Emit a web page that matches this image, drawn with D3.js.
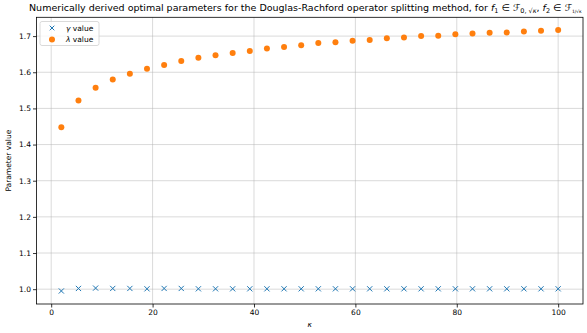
<!DOCTYPE html>
<html><head><meta charset="utf-8">
<script src="https://cdn.jsdelivr.net/npm/d3@7"></script>
<style>body{margin:0;background:#fff}svg{display:block;font-family:"DejaVu Sans",sans-serif}</style>
</head><body><svg id="c" width="587" height="333"></svg>
<script>
const kappa = d3.range(30).map(i => 2 + i * 98 / 29);
const gammaValues = [0.995,1.002,1.003,1.002,1.002,1.001,1.002,1.002,1.001,1.001,1.001,1.001,1.001,1.001,1.001,1.001,1.001,1.001,1.001,1.001,1.001,1.001,1.001,1.001,1.001,1.001,1.001,1.001,1.001,1.001];
const lambdaValues = [1.448,1.522,1.557,1.580,1.596,1.610,1.620,1.631,1.640,1.647,1.653,1.659,1.666,1.670,1.675,1.681,1.683,1.687,1.689,1.694,1.696,1.700,1.701,1.705,1.707,1.709,1.710,1.713,1.715,1.717];
const xTicks = [0,20,40,60,80,100];
const yTicks = [1.0,1.1,1.2,1.3,1.4,1.5,1.6,1.7];

const L=36.5, R=583, T=17.3, B=304;
const svg = d3.select("#c");
const x = d3.scaleLinear().domain([-2.9,104.9]).range([L,R]);
const y = d3.scaleLinear().domain([0.959,1.752]).range([B,T]);

// grid
const g = svg.append("g");
g.selectAll(".gx").data(xTicks).join("line").attr("x1",d=>x(d)).attr("x2",d=>x(d)).attr("y1",T).attr("y2",B).attr("stroke","#b0b0b0").attr("stroke-opacity",0.6).attr("stroke-width",0.8);
g.selectAll(".gy").data(yTicks).join("line").attr("y1",d=>y(d)).attr("y2",d=>y(d)).attr("x1",L).attr("x2",R).attr("stroke","#b0b0b0").attr("stroke-opacity",0.6).attr("stroke-width",0.8);

// axes
const xa = svg.append("g").attr("transform",`translate(0,${B})`).call(d3.axisBottom(x).tickValues(xTicks).tickSize(3.5).tickPadding(2).tickFormat(d3.format("d")));
const ya = svg.append("g").attr("transform",`translate(${L},0)`).call(d3.axisLeft(y).tickValues(yTicks).tickSize(3.5).tickPadding(2).tickFormat(d3.format(".1f")));
[xa,ya].forEach(a=>{a.select(".domain").remove();a.selectAll("text").attr("font-size",7.5).attr("fill","#000").attr("font-family","DejaVu Sans");a.selectAll("line").attr("stroke","#000").attr("stroke-width",0.8);});
svg.append("rect").attr("x",L).attr("y",T).attr("width",R-L).attr("height",B-T).attr("fill","none").attr("stroke","#000").attr("stroke-width",0.8);

// data
const s = 2.6;
svg.append("g").selectAll("path").data(kappa.map((k,i)=>[k,gammaValues[i]])).join("path")
  .attr("d",d=>{const cx=x(d[0]),cy=y(d[1]);return `M${cx-s},${cy-s}L${cx+s},${cy+s}M${cx-s},${cy+s}L${cx+s},${cy-s}`;})
  .attr("stroke","#1f77b4").attr("stroke-width",1);
svg.append("g").selectAll("circle").data(kappa.map((k,i)=>[k,lambdaValues[i]])).join("circle")
  .attr("cx",d=>x(d[0])).attr("cy",d=>y(d[1])).attr("r",3).attr("fill","#ff7f0e");

// legend
const lg = svg.append("g");
lg.append("rect").attr("x",40).attr("y",21.5).attr("width",59).attr("height",24).attr("rx",2).attr("fill","#fff").attr("fill-opacity",0.8).attr("stroke","#d0d0d0").attr("stroke-width",0.8);
lg.append("path").attr("d",`M${52-2.3},${28-2.3}L${52+2.3},${28+2.3}M${52-2.3},${28+2.3}L${52+2.3},${28-2.3}`).attr("stroke","#1f77b4").attr("stroke-width",1);
lg.append("circle").attr("cx",52).attr("cy",39.5).attr("r",3).attr("fill","#ff7f0e");
const lt1 = lg.append("text").attr("x",66).attr("y",30.8).attr("font-size",7.5);
lt1.append("tspan").attr("font-style","italic").text("γ");
lt1.append("tspan").text(" value");
const lt2 = lg.append("text").attr("x",66).attr("y",42.3).attr("font-size",7.5);
lt2.append("tspan").attr("font-style","italic").text("λ");
lt2.append("tspan").text(" value");

// labels
svg.append("text").attr("x",(L+R)/2).attr("y",327).attr("text-anchor","middle").attr("font-size",7.5).attr("font-style","italic").text("κ");
svg.append("text").attr("transform",`translate(11,${(T+B)/2}) rotate(-90)`).attr("text-anchor","middle").attr("font-size",7.5).text("Parameter value");

// title
const t = svg.append("text").attr("x",29).attr("y",11).attr("font-size",9.5);
t.append("tspan").text("Numerically derived optimal parameters for the Douglas-Rachford operator splitting method, for ");
t.append("tspan").attr("font-style","italic").text("f");
t.append("tspan").attr("font-size",6.5).attr("dy",2).text("1");
t.append("tspan").attr("dy",-2).text(" ∈ ");
t.append("tspan").text("ℱ");
t.append("tspan").attr("font-size",6.5).attr("dy",2).text("0, √");
t.append("tspan").attr("font-size",6.5).attr("font-style","italic").text("κ");
t.append("tspan").attr("dy",-2).text(", ");
t.append("tspan").attr("font-style","italic").text("f");
t.append("tspan").attr("font-size",6.5).attr("dy",2).text("2");
t.append("tspan").attr("dy",-2).text(" ∈ ");
t.append("tspan").text("ℱ");
t.append("tspan").attr("font-size",4.5).attr("dy",2).text("1/√κ");
</script></body></html>
